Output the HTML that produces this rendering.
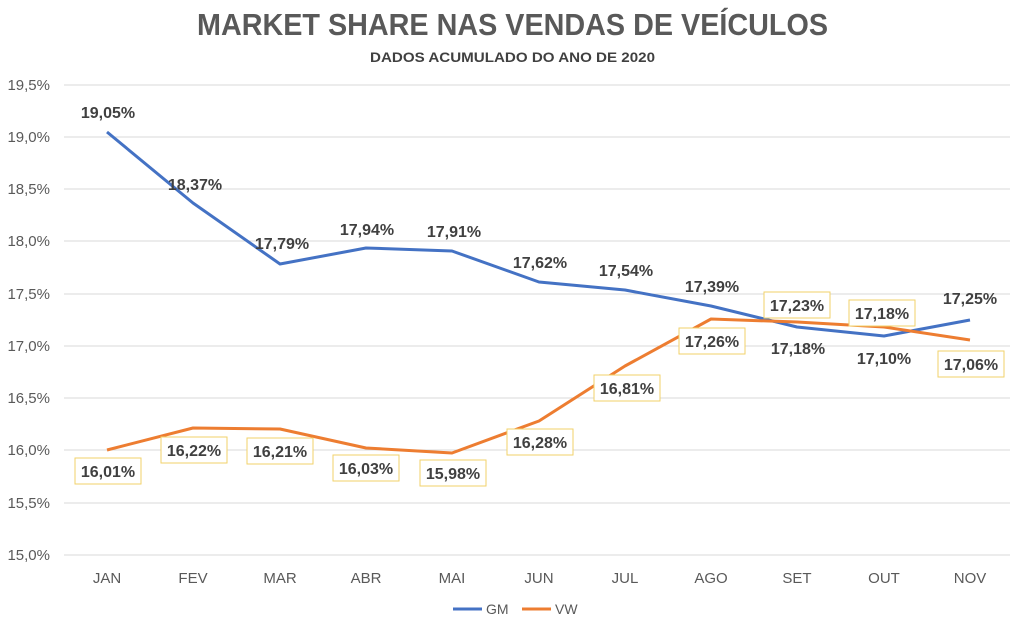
<!DOCTYPE html>
<html><head><meta charset="utf-8"><style>
body{margin:0;background:#fff;}
svg{display:block;font-family:"Liberation Sans",sans-serif;}
</style></head><body>
<svg width="1025" height="625" viewBox="0 0 1025 625">
<text x="197" y="35" font-size="31" font-weight="bold" fill="#595959" textLength="631" lengthAdjust="spacingAndGlyphs">MARKET SHARE NAS VENDAS DE VEÍCULOS</text>
<text x="370" y="62" font-size="14" font-weight="bold" fill="#404040" textLength="285" lengthAdjust="spacingAndGlyphs">DADOS ACUMULADO DO ANO DE 2020</text>
<g stroke="#d9d9d9" stroke-width="1">
<line x1="64" x2="1010" y1="85" y2="85"/><line x1="64" x2="1010" y1="137" y2="137"/><line x1="64" x2="1010" y1="189" y2="189"/><line x1="64" x2="1010" y1="241" y2="241"/><line x1="64" x2="1010" y1="294" y2="294"/><line x1="64" x2="1010" y1="346" y2="346"/><line x1="64" x2="1010" y1="398" y2="398"/><line x1="64" x2="1010" y1="450" y2="450"/><line x1="64" x2="1010" y1="503" y2="503"/><line x1="64" x2="1010" y1="555" y2="555"/>
</g>
<g font-size="15" fill="#595959" text-anchor="end">
<text x="50" y="90">19,5%</text><text x="50" y="142">19,0%</text><text x="50" y="194">18,5%</text><text x="50" y="246">18,0%</text><text x="50" y="299">17,5%</text><text x="50" y="351">17,0%</text><text x="50" y="403">16,5%</text><text x="50" y="455">16,0%</text><text x="50" y="508">15,5%</text><text x="50" y="560">15,0%</text>
</g>
<g font-size="15" fill="#595959" text-anchor="middle">
<text x="107" y="583">JAN</text><text x="193" y="583">FEV</text><text x="280" y="583">MAR</text><text x="366" y="583">ABR</text><text x="452" y="583">MAI</text><text x="539" y="583">JUN</text><text x="625" y="583">JUL</text><text x="711" y="583">AGO</text><text x="797" y="583">SET</text><text x="884" y="583">OUT</text><text x="970" y="583">NOV</text>
</g>
<polyline fill="none" stroke="#4472c4" stroke-width="3" stroke-linejoin="round" points="107,132 193,203 280,264 366,248 452,251 539,282 625,290 711,306 797,327 884,336 970,320"/>
<polyline fill="none" stroke="#ed7d31" stroke-width="3" stroke-linejoin="round" points="107,450 193,428 280,429 366,448 452,453 539,421 625,366 711,319 797,322 884,327 970,340"/>
<g font-size="16" font-weight="bold" fill="#404040" text-anchor="middle">
<text x="108" y="118">19,05%</text><text x="195" y="190">18,37%</text><text x="282" y="249">17,79%</text><text x="367" y="235">17,94%</text><text x="454" y="237">17,91%</text><text x="540" y="268">17,62%</text><text x="626" y="276">17,54%</text><text x="712" y="292">17,39%</text><text x="798" y="354">17,18%</text><text x="884" y="364">17,10%</text><text x="970" y="304">17,25%</text>
</g>
<g fill="#fff" stroke="#f2d269" stroke-width="1">
<rect x="75" y="458" width="66" height="26"/><rect x="161" y="437" width="66" height="26"/><rect x="247" y="438" width="66" height="26"/><rect x="333" y="455" width="66" height="26"/><rect x="420" y="460" width="66" height="26"/><rect x="507" y="429" width="66" height="26"/><rect x="594" y="375" width="66" height="26"/><rect x="679" y="328" width="66" height="26"/><rect x="764" y="292" width="66" height="26"/><rect x="849" y="300" width="66" height="26"/><rect x="938" y="351" width="66" height="26"/>
</g>
<g font-size="16" font-weight="bold" fill="#404040" text-anchor="middle">
<text x="108" y="477">16,01%</text><text x="194" y="456">16,22%</text><text x="280" y="457">16,21%</text><text x="366" y="474">16,03%</text><text x="453" y="479">15,98%</text><text x="540" y="448">16,28%</text><text x="627" y="394">16,81%</text><text x="712" y="347">17,26%</text><text x="797" y="311">17,23%</text><text x="882" y="319">17,18%</text><text x="971" y="370">17,06%</text>
</g>
<line x1="453" x2="482" y1="609" y2="609" stroke="#4472c4" stroke-width="3"/>
<text x="486" y="614" font-size="14" fill="#595959">GM</text>
<line x1="522" x2="551" y1="609" y2="609" stroke="#ed7d31" stroke-width="3"/>
<text x="555" y="614" font-size="14" fill="#595959">VW</text>
</svg>
</body></html>
